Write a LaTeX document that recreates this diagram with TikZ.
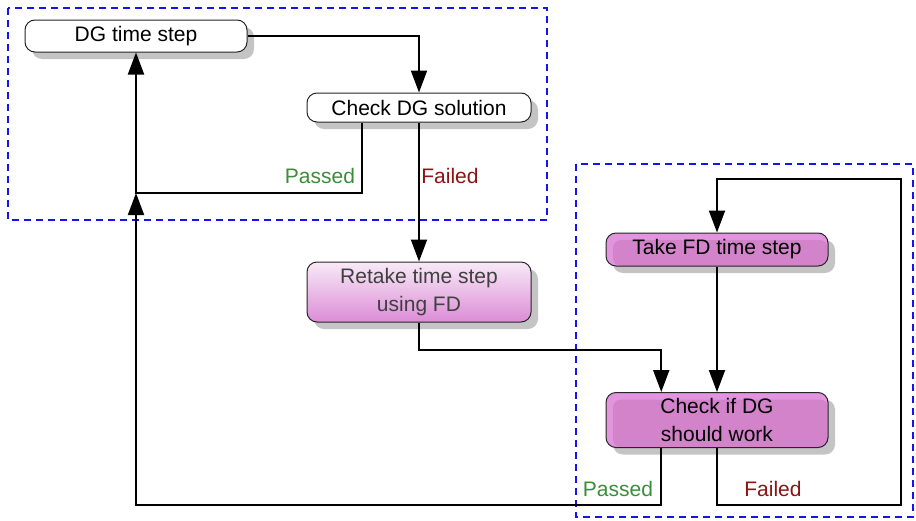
\documentclass[tikz,border=0pt]{standalone}
\usepackage{fontspec}
\setmainfont{Liberation Sans}
\usepackage{tikz}
\usetikzlibrary{arrows.meta,shadows,calc}
\definecolor{zone}{HTML}{1414F0}
\definecolor{passc}{HTML}{3C8C3C}
\definecolor{failc}{HTML}{8C1414}
\definecolor{fdlight}{HTML}{E394DE}
\definecolor{fddark}{HTML}{D383CA}
\definecolor{fdtop}{HTML}{F8EAF7}
\definecolor{fdbot}{HTML}{DC8CD6}
\definecolor{shade}{HTML}{C4C4C4}
\tikzset{
  fbase/.style={draw=black!85,rounded corners=5pt,line width=0.5pt,align=center,inner sep=2pt,
    drop shadow={shadow xshift=3.5pt,shadow yshift=-3.5pt,fill=shade,opacity=1}},
  fplain/.style={fbase,fill=white},
  fgrad/.style={fbase,top color=fdtop,bottom color=fdbot,text=black!75},
  fviolet/.style={fbase,fill=fdlight,
    path picture={\fill[fddark,rounded corners=4pt] ([xshift=3.5pt,yshift=-3.5pt]path picture bounding box.north west) rectangle (path picture bounding box.south east);}},
  farr/.style={-{Triangle[length=11pt,width=8pt]},line width=1pt,draw=black},
  fzone/.style={draw=zone,line width=1pt,dash pattern=on 3.5pt off 2.5pt},
  fpass/.style={text=passc},
  ffail/.style={text=failc}
}

\begin{document}
\begin{tikzpicture}[x=0.5pt,y=-0.5pt,font=\fontsize{10.5}{14}\selectfont]
  \useasboundingbox (0,0) rectangle (916,520);
  % dashed zones
  \draw[fzone] (8,8) rectangle (547,220);
  \draw[fzone] (576,164) rectangle (913,517);
  % DG part
  \node[fplain,minimum width=111pt,minimum height=16pt] (dgstep) at (136,36) {DG time step};
  \node[fplain,minimum width=112pt,minimum height=14.5pt] (dgcheck) at (419,107.5) {Check DG solution};
  \node[fgrad,minimum width=112pt,minimum height=30pt] (retake) at (419,292) {Retake time step\\using FD};
  % FD part
  \node[fviolet,minimum width=111pt,minimum height=16.5pt] (fdstep) at (717,249.5) {Take FD time step};
  \node[fviolet,minimum width=111pt,minimum height=27.5pt] (fdcheck) at (717,420) {Check if DG\\should work};
  \coordinate (merge) at (136,193);
  \coordinate (dgpass) at ($(dgcheck.south west)!0.245!(dgcheck.south east)$);
  \coordinate (fdin) at ($(fdcheck.north west)!0.25!(fdcheck.north east)$);
  \coordinate (fdout) at ($(fdcheck.south west)!0.25!(fdcheck.south east)$);
  \coordinate (loopbr) at (901,505);
  \coordinate (looptr) at (901,179);
  % connectors
  \draw[farr] (dgstep.east) -| (dgcheck.north);
  \draw[farr] (dgpass) |- (merge) -- (dgstep.south);
  \draw[farr] (dgcheck.south) -- (retake.north);
  \draw[farr] (retake.south) -- ++(0,27) -| (fdin);
  \draw[farr] (fdstep.south) -- (fdcheck.north);
  \draw[farr] (fdout) -- ++(0,57) -| (merge);
  \draw[farr] (fdcheck.south) |- (loopbr) -- (looptr) -| (fdstep.north);
  % labels
  \node[fpass] (lpass1) at (320,176) {Passed};
  \node[ffail] (lfail1) at (450,176) {Failed};
  \node[fpass] (lpass2) at (618,489) {Passed};
  \node[ffail] (lfail2) at (773,489) {Failed};
\end{tikzpicture}
\end{document}
